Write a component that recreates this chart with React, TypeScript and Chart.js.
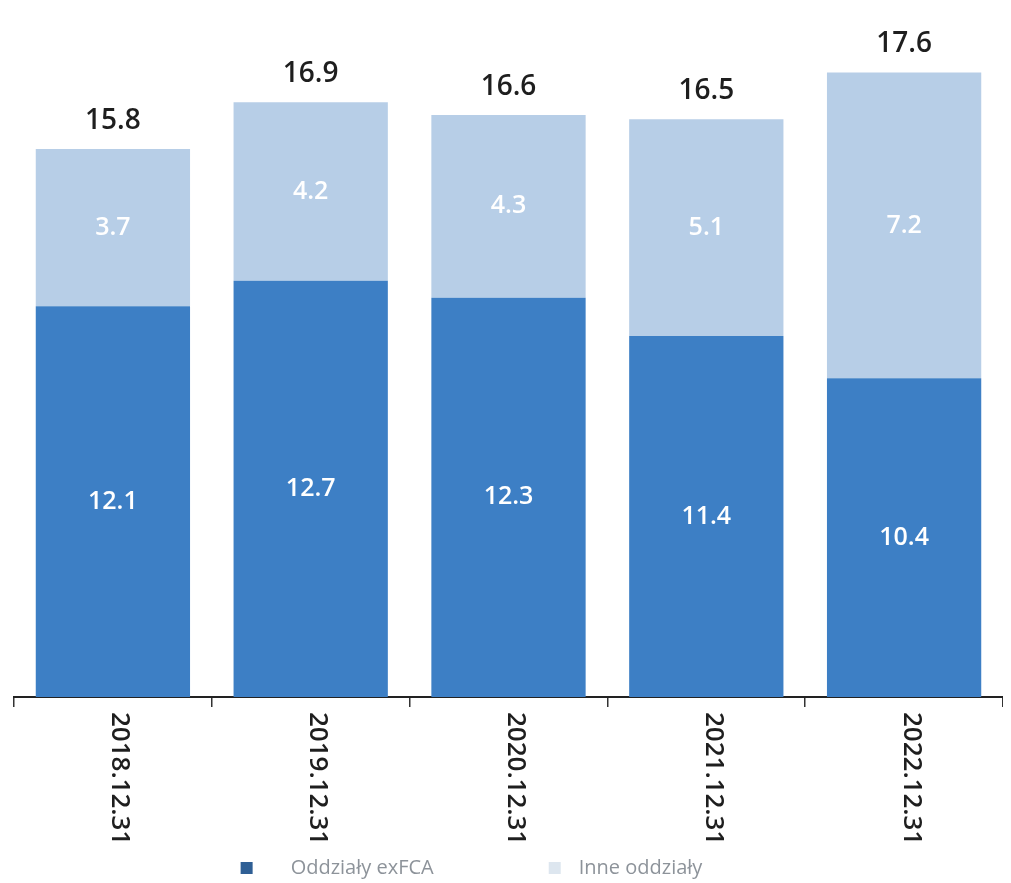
import React, { useEffect, useRef } from "react";
import { Chart, registerables } from "chart.js";

Chart.register(...registerables);

const categories = ["2018.12.31", "2019.12.31", "2020.12.31", "2021.12.31", "2022.12.31"];
const exFCA = [12.1, 12.7, 12.3, 11.4, 10.4];
const inne = [3.7, 4.2, 4.3, 5.1, 7.2];
const totals = [15.8, 16.9, 16.6, 16.5, 17.6];
const seriesNames = ["Oddziały exFCA", "Inne oddziały"];
const seriesColors = ["#3d7fc5", "#b7cee7"];
const legendMarkerColors = ["#2f5f95", "#dde6ef"];

const FONT = "'Open Sans', 'DejaVu Sans', sans-serif";

const labelsPlugin = {
  id: "customLabels",
  afterDraw(chart: any) {
    const ctx = chart.ctx;
    const xs = chart.scales.x;
    const ys = chart.scales.y;
    const area = chart.chartArea;
    ctx.save();
    // segment values
    chart.data.datasets.forEach((ds: any, di: number) => {
      const meta = chart.getDatasetMeta(di);
      meta.data.forEach((el: any, i: number) => {
        const { x, y, base } = el.getProps(["x", "y", "base"], true);
        const b = Math.min(base, area.bottom);
        ctx.fillStyle = "#ffffff";
        ctx.font = `600 25px ${FONT}`;
        ctx.textAlign = "center";
        ctx.textBaseline = "middle";
        ctx.fillText(ds.data[i].toFixed(1), x, (y + b) / 2);
      });
    });
    // totals
    totals.forEach((t, i) => {
      const x = xs.getPixelForValue(i);
      const y = ys.getPixelForValue(t);
      ctx.fillStyle = "#1e1e1e";
      ctx.font = `600 28px ${FONT}`;
      ctx.textAlign = "center";
      ctx.textBaseline = "middle";
      ctx.fillText(t.toFixed(1), x, y - 28);
    });
    // rotated category labels
    categories.forEach((c, i) => {
      const x = xs.getPixelForValue(i);
      ctx.save();
      ctx.translate(x + 7, area.bottom + 15);
      ctx.rotate(Math.PI / 2);
      ctx.fillStyle = "#1e1e1e";
      ctx.font = `600 26px ${FONT}`;
      ctx.textAlign = "left";
      ctx.textBaseline = "middle";
      ctx.fillText(c, 0, 0);
      ctx.restore();
    });
    // legend
    ctx.font = `400 20px ${FONT}`;
    const box = 12;
    const textGaps = [38, 18];
    const itemGap = 115;
    const widths = seriesNames.map((n, i) => box + textGaps[i] + ctx.measureText(n).width);
    const total = widths.reduce((a, b) => a + b, 0) + itemGap;
    let lx = (area.left + area.right) / 2 - 37 - total / 2;
    const ly = chart.height - 15;
    seriesNames.forEach((n, i) => {
      ctx.fillStyle = legendMarkerColors[i];
      ctx.fillRect(lx, ly - box / 2, box, box);
      ctx.fillStyle = "#8d939a";
      ctx.textAlign = "left";
      ctx.textBaseline = "middle";
      ctx.fillText(n, lx + box + textGaps[i], ly);
      lx += widths[i] + itemGap;
    });
    ctx.restore();
  },
};

export default function App() {
  const ref = useRef<HTMLCanvasElement | null>(null);
  useEffect(() => {
    if (!ref.current) return;
    const chart = new Chart(ref.current, {
      type: "bar",
      data: {
        labels: categories,
        datasets: [
          { label: seriesNames[0], data: exFCA, backgroundColor: seriesColors[0], borderWidth: 0 },
          { label: seriesNames[1], data: inne, backgroundColor: seriesColors[1], borderWidth: 0 },
        ],
      },
      options: {
        animation: false,
        responsive: true,
        maintainAspectRatio: false,
        layout: { padding: { top: 22, left: 6, right: 0, bottom: 40 } },
        plugins: { legend: { display: false }, tooltip: { enabled: false } },
        datasets: { bar: { categoryPercentage: 1, barPercentage: 0.78 } },
        scales: {
          x: {
            stacked: true,
            offset: true,
            grid: {
              display: true,
              drawOnChartArea: false,
              drawTicks: true,
              tickLength: 10,
              color: "#333",
              lineWidth: 1.5,
            },
            border: { display: true, color: "#222", width: 2 },
            ticks: { display: false },
            afterFit(scale: any) {
              scale.height = 146;
            },
          },
          y: {
            stacked: true,
            display: false,
            min: 2.9,
            max: 18.6,
          },
        },
      },
      plugins: [labelsPlugin],
    } as any);
    return () => chart.destroy();
  }, []);
  return (
    <div style={{ width: 995, height: 875, position: "relative" }}>
      <canvas ref={ref} />
    </div>
  );
}
